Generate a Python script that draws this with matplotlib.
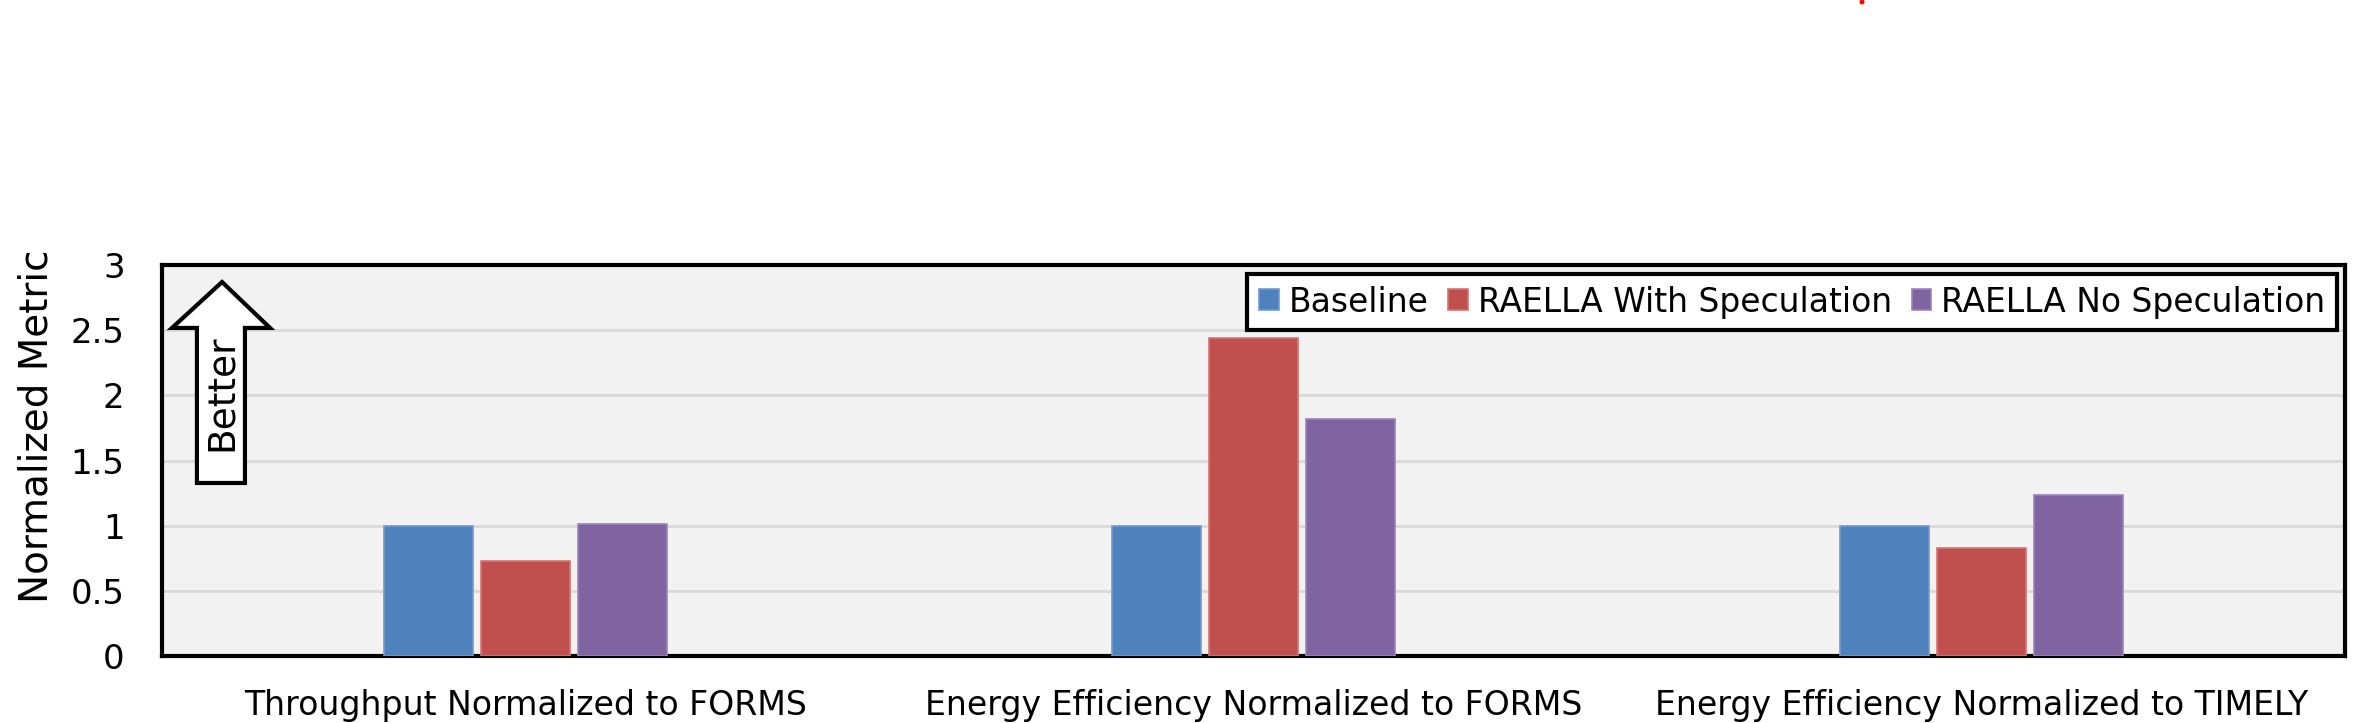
import matplotlib
matplotlib.use("Agg")
import matplotlib.pyplot as plt
from matplotlib.patches import Polygon, Ellipse
import numpy as np

categories = ["Throughput Normalized to FORMS",
              "Energy Efficiency Normalized to FORMS",
              "Energy Efficiency Normalized to TIMELY"]
series_names = ["Baseline", "RAELLA With Speculation", "RAELLA No Speculation"]
baseline = [1.0, 1.0, 1.0]
with_spec = [0.73, 2.44, 0.83]
no_spec = [1.01, 1.82, 1.235]
colors = ["#4F81BD", "#C0504D", "#8064A2"]
edges = ["#6F9AD0", "#D57370", "#9A83BC"]
yticks = [0, 0.5, 1, 1.5, 2, 2.5, 3]
ytick_labels = ["0", "0.5", "1", "1.5", "2", "2.5", "3"]

plt.rcParams['font.family'] = ['DejaVu Sans']

fig = plt.figure(figsize=(23.75, 7.23), dpi=100)
ax = fig.add_axes([162/2375, 1-656/723, 2183/2375, 391/723])
ax.set_facecolor("#F2F2F2")

x = np.arange(len(categories))
w = 0.1224
step = 0.1334
for i, (vals, name) in enumerate(zip([baseline, with_spec, no_spec], series_names)):
    ax.bar(x + (i-1)*step, vals, width=w, color=colors[i], edgecolor=edges[i],
           linewidth=1.2, label=name, zorder=3)

ax.set_xlim(-0.5, 2.5)
ax.set_ylim(0, 3)
ax.set_yticks(yticks)
ax.set_yticklabels(ytick_labels, fontsize=24.5)
ax.set_xticks(x)
ax.set_xticklabels(categories, fontsize=23.9)
ax.tick_params(axis='y', length=0, pad=27)
ax.tick_params(axis='x', length=0, pad=24)
ax.yaxis.grid(True, color="#D9D9D9", linewidth=2, zorder=0)
ax.set_axisbelow(True)
for s in ax.spines.values():
    s.set_linewidth(3)
    s.set_color("black")
ax.set_ylabel("Normalized Metric", fontsize=28)
ax.yaxis.set_label_coords(-0.049, 0.588)

leg = ax.legend(loc='upper right', bbox_to_anchor=(0.9963, 0.977), borderaxespad=0,
                ncol=3, fontsize=23.7, frameon=True, fancybox=False,
                handlelength=0.6, handleheight=0.6, handletextpad=0.3,
                columnspacing=0.6, borderpad=0.35)
leg.get_frame().set_edgecolor("black")
leg.get_frame().set_linewidth(3)
leg.get_frame().set_facecolor("white")
leg.get_frame().set_alpha(1)

arrow_pts = [(0.0160, 0.4425), (0.0380, 0.4425), (0.0380, 0.839), (0.0495, 0.839),
             (0.0275, 0.9565), (0.00458, 0.839), (0.0160, 0.839)]
ax.add_patch(Polygon(arrow_pts, closed=True, transform=ax.transAxes, facecolor="white",
                     edgecolor="black", linewidth=3, zorder=5, joinstyle='miter'))
ax.text(0.0275, 0.673, "Better", transform=ax.transAxes, rotation=90, ha='center',
        va='center', fontsize=27, zorder=6)

fig.add_artist(Ellipse((1862/2375, 1-2/723), 5/2375, 5/723, transform=fig.transFigure,
                       color="#FF0000", lw=0))

fig.savefig("out.png", dpi=100)
